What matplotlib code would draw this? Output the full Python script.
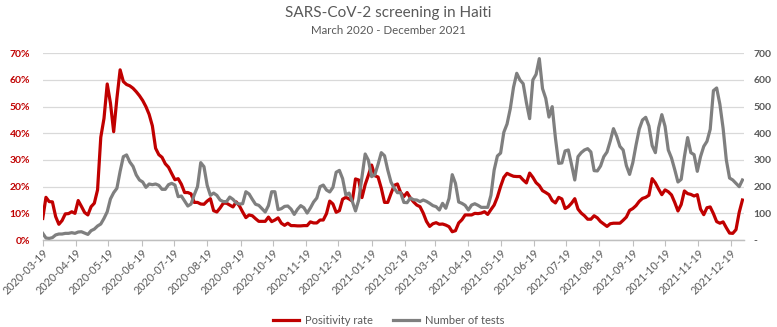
import numpy as np
import pandas as pd
import matplotlib
matplotlib.use("Agg")
import matplotlib.pyplot as plt
import matplotlib.dates as mdates
from matplotlib.ticker import FuncFormatter, MultipleLocator

plt.rcParams['font.family'] = ['Lato', 'DejaVu Sans']

title = "SARS-CoV-2 screening in Haiti"
subtitle = "March 2020 - December 2021"
series_names = ["Positivity rate", "Number of tests"]

start_date = "2020-03-19"
step = "3D"

positivity_pct = [
    8.1, 16.0, 14.4, 14.3, 8.8, 5.9, 7.3, 9.8, 9.9, 10.6,
    10.0, 14.8, 12.6, 10.3, 9.4, 12.5, 13.8, 18.8, 38.5, 45.6,
    58.5, 51.3, 40.6, 53.1, 63.8, 59.4, 58.3, 57.8, 56.9, 55.6,
    54.1, 52.3, 50.0, 47.1, 42.8, 34.4, 32.0, 31.0, 28.6, 27.3,
    24.9, 22.6, 23.0, 20.9, 17.8, 17.8, 17.3, 14.1, 14.1, 13.5,
    13.4, 14.6, 15.5, 11.0, 10.5, 12.0, 13.8, 13.8, 13.1, 12.4,
    14.3, 12.8, 10.5, 8.4, 9.4, 9.1, 8.0, 7.0, 7.0, 7.0,
    8.6, 6.9, 7.5, 8.3, 6.3, 5.5, 6.3, 5.4, 5.4, 5.3,
    5.3, 5.4, 5.4, 6.8, 6.4, 6.4, 7.5, 7.5, 9.9, 14.6,
    13.5, 10.4, 11.0, 15.3, 16.0, 15.4, 14.6, 22.9, 22.5, 15.9,
    20.8, 24.3, 28.1, 24.1, 23.6, 19.4, 14.1, 14.1, 17.4, 20.5,
    21.0, 17.8, 16.3, 17.8, 15.8, 14.3, 13.1, 12.5, 10.1, 7.0,
    5.1, 6.1, 6.5, 5.9, 6.0, 5.6, 5.0, 3.1, 3.5, 6.4,
    7.6, 9.4, 9.4, 9.4, 10.0, 9.9, 10.1, 10.6, 9.6, 11.4,
    13.1, 16.1, 20.1, 23.5, 25.0, 24.4, 23.9, 23.8, 23.8, 22.5,
    21.4, 25.1, 23.5, 21.5, 20.4, 18.5, 17.8, 17.0, 14.8, 13.9,
    16.0, 15.4, 11.8, 12.5, 13.8, 15.5, 11.6, 10.1, 9.1, 7.8,
    7.8, 9.1, 8.3, 6.9, 6.0, 5.1, 6.1, 6.3, 6.3, 6.3,
    7.4, 8.6, 11.1, 11.8, 12.9, 14.5, 15.6, 16.0, 16.8, 23.0,
    21.4, 19.1, 17.0, 18.8, 18.1, 16.9, 14.1, 10.9, 13.3, 18.4,
    17.4, 17.1, 16.5, 17.0, 11.6, 9.5, 12.1, 12.4, 9.9, 6.9,
    6.3, 6.8, 4.6, 2.6, 2.5, 3.9, 10.4, 15.0,
]

tests = [
    25, 7.5, 6, 9, 19, 22.5, 22.5, 25, 25, 27.5,
    25, 30, 31, 26, 21, 35, 41, 52.5, 60, 81,
    106, 154, 177.5, 194, 257.5, 312.5, 319, 292.5, 276, 244,
    225, 217.5, 197.5, 210, 207.5, 210, 205, 190, 190, 207.5,
    212.5, 206, 162.5, 165, 146, 127.5, 135, 170, 200, 290,
    275, 205, 167.5, 176, 167.5, 150, 144, 144, 161, 152.5,
    139, 135, 136, 181, 172.5, 152.5, 134, 130, 117.5, 105,
    129, 181, 181, 114, 117.5, 126, 127.5, 116, 96, 115,
    129, 121, 101, 120, 142.5, 157.5, 200, 206, 187.5, 180,
    197.5, 254, 261, 230, 169, 176, 145, 109, 150, 236,
    322.5, 299, 237.5, 245, 284, 327.5, 316, 262.5, 217.5, 194,
    177.5, 177.5, 141, 140, 157.5, 151, 150, 144, 150, 145,
    137.5, 129, 125, 112.5, 137.5, 119, 156, 245, 212.5, 142.5,
    137.5, 130, 112.5, 131, 136, 130, 122.5, 122.5, 122.5, 167.5,
    262.5, 315, 326, 404, 435, 492.5, 572.5, 625, 600, 586,
    515, 455, 600, 621, 680, 567.5, 531, 461, 500, 382.5,
    287.5, 289, 334, 337.5, 282.5, 225, 312.5, 327.5, 337.5, 342.5,
    330, 260, 259, 277.5, 312.5, 330, 371, 417.5, 389, 351,
    337.5, 279, 246, 290, 356, 416, 450, 460, 427.5, 354,
    327.5, 420, 470, 426, 337.5, 307.5, 264, 217.5, 227.5, 312.5,
    384, 327.5, 320, 257.5, 312.5, 351, 370, 415, 560, 570,
    509, 419, 300, 232.5, 225, 212.5, 200, 225,
]

tick_dates = pd.date_range("2020-03-01", "2021-12-01", freq="MS") + pd.Timedelta(days=18)

dates = pd.date_range(start_date, periods=len(positivity_pct), freq=step)

RED = "#C00000"
GRAY = "#7F7F7F"
TXT = "#595959"

fig = plt.figure(figsize=(7.77, 3.27), dpi=100)
ax = fig.add_axes([0.055, 0.266, 0.9026, 0.571])
ax2 = ax.twinx()

l1, = ax.plot(dates, np.array(positivity_pct) / 100.0, color=RED, lw=2.3,
              solid_joinstyle="round", label=series_names[0])
l2, = ax2.plot(dates, tests, color=GRAY, lw=2.3, solid_joinstyle="round",
               label=series_names[1])

ax.set_ylim(0, 0.7)
ax2.set_ylim(0, 700)
ax.yaxis.set_major_locator(MultipleLocator(0.1))
ax2.yaxis.set_major_locator(MultipleLocator(100))
ax.yaxis.set_major_formatter(FuncFormatter(lambda v, p: f"{v*100:.0f}%"))
ax2.yaxis.set_major_formatter(FuncFormatter(lambda v, p: "-" if abs(v) < 1e-9 else f"{v:.0f}"))

ax.set_xlim(pd.Timestamp(start_date), pd.Timestamp(start_date) + pd.Timedelta(days=652.5))
ax.set_xticks(tick_dates)
ax.xaxis.set_major_formatter(mdates.DateFormatter("%Y-%m-%d"))

ax.grid(axis="y", color="#D9D9D9", lw=0.9)
ax.set_axisbelow(True)
for a in (ax, ax2):
    for s in ("top", "left", "right"):
        a.spines[s].set_visible(False)
    a.spines["bottom"].set_color("#BFBFBF")
    a.spines["bottom"].set_linewidth(0.9)

ax.tick_params(axis="y", length=0, pad=9, labelsize=7.5, labelcolor=RED)
for t in ax.get_yticklabels():
    t.set_fontweight("bold")
ax2.tick_params(axis="y", length=0, pad=7, labelsize=7.5, labelcolor=TXT)
for t in ax2.get_yticklabels():
    t.set_fontweight("bold")
ax.tick_params(axis="x", length=4, width=0.8, color="#BFBFBF", labelsize=7.8,
               labelcolor=TXT, pad=1)
plt.setp(ax.get_xticklabels(), rotation=45, ha="right", rotation_mode="anchor")

fig.text(0.5, 1 - 13 / 327, title, ha="center", va="center", fontsize=11, color=TXT)
fig.text(0.5, 1 - 30 / 327, subtitle, ha="center", va="center", fontsize=8.3, color=TXT)

fig.legend(handles=[l1, l2], loc="center", bbox_to_anchor=(0.5, 7 / 327), ncol=2,
           frameon=False, fontsize=8, labelcolor=TXT, handlelength=2.4,
           columnspacing=1.8, handletextpad=0.5)

fig.savefig("out.png", dpi=100)
